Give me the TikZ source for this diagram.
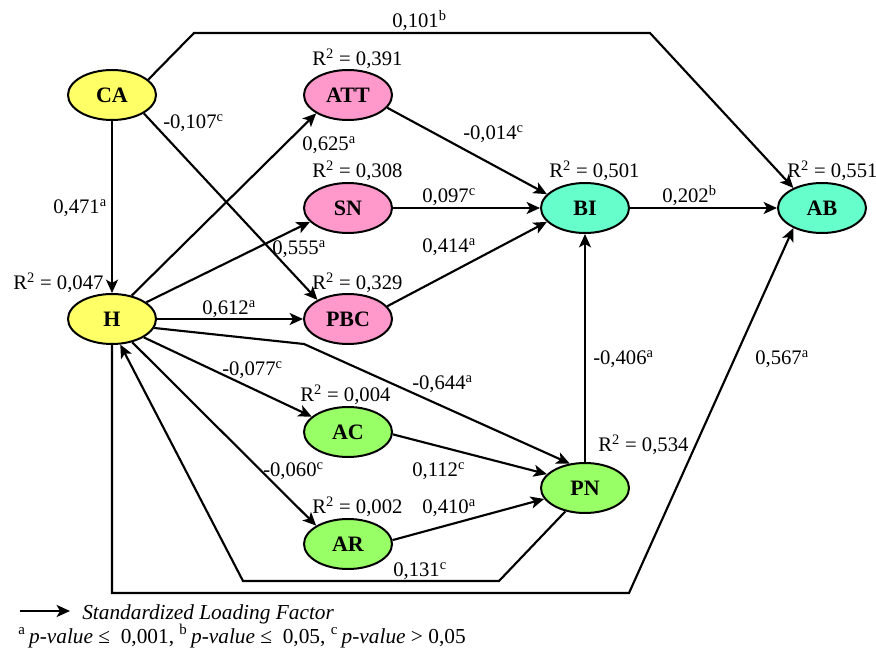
\documentclass[tikz,border=0pt]{standalone}
\usepackage{fontspec}
\setmainfont{Liberation Serif}
\usetikzlibrary{shapes.geometric,arrows.meta}
\definecolor{cyel}{HTML}{FFFF66}
\definecolor{cpnk}{HTML}{FF99CC}
\definecolor{ctea}{HTML}{66FFCC}
\definecolor{cgrn}{HTML}{99FF66}
\begin{document}
\begin{tikzpicture}[x=0.75pt,y=-0.75pt,
  latent/.style={ellipse,draw,line width=1.5pt,minimum width=66pt,minimum height=37.5pt,inner sep=0pt,font=\fontsize{16.5}{19}\selectfont\bfseries},
  yel/.style={latent,fill=cyel},
  pnk/.style={latent,fill=cpnk},
  tea/.style={latent,fill=ctea},
  grn/.style={latent,fill=cgrn},
  conn/.style={line width=1.6pt,line join=miter,-{Stealth[length=10pt,width=9pt,inset=2.5pt]}},
  lbl/.style={anchor=base west,inner sep=0pt,font=\fontsize{15.5}{18}\selectfont},
  leg/.style={anchor=base west,inner sep=0pt,font=\fontsize{16}{19}\selectfont}
]
\useasboundingbox (0,0) rectangle (876,653);
% nodes
\node[yel] (CA) at (112,95) {CA};
\node[yel] (H) at (112,319) {H};
\node[pnk] (ATT) at (348,95) {ATT};
\node[pnk] (SN) at (348,208) {SN};
\node[pnk] (PBC) at (348,319) {PBC};
\node[grn] (AC) at (348,432) {AC};
\node[grn] (AR) at (348,544) {AR};
\node[tea] (BI) at (585,208) {BI};
\node[tea] (AB) at (822,208) {AB};
\node[grn] (PN) at (585,488) {PN};
% bends
\coordinate (c1) at (194,33);
\coordinate (c2) at (650,33);
\coordinate (c3) at (304,344);
\coordinate (c4) at (499,581);
\coordinate (c5) at (243,581);
\coordinate (c6) at (112,593);
\coordinate (c7) at (629,593);
% connectors
\draw[conn] (CA) -- (H);
\draw[conn] (CA.-30) -- (PBC.148);
\draw[conn] (CA.23) -- (c1) -- (c2) -- (AB.145);
\draw[conn] (H.50) -- (ATT.-150);
\draw[conn] (H.26) -- (SN.-160);
\draw[conn] (H) -- (PBC);
\draw[conn] (H.-12) -- (c3) -- (PN.122);
\draw[conn] (H.-30) -- (AC.157);
\draw[conn] (H.-49) -- (AR.150);
\draw[conn] (PN.-130) -- (c4) -- (c5) -- (H.-72);
\draw[conn] (H.south) -- (c6) -- (c7) -- (AB.-145);
\draw[conn] (ATT.-18) -- (BI.160);
\draw[conn] (SN) -- (BI);
\draw[conn] (PBC.18) -- (BI.-160);
\draw[conn] (BI) -- (AB);
\draw[conn] (AC.-3) -- (PN.160);
\draw[conn] (AR.5) -- (PN.-165);
\draw[conn] (PN) -- (BI);
% labels
\node[lbl] (l1) at (392,27) {0,101\textsuperscript{b}};
\node[lbl] (r1) at (312,65) {R\textsuperscript{2} = 0,391};
\node[lbl] (l2) at (163,128) {-0,107\textsuperscript{c}};
\node[lbl] (l3) at (302,150) {0,625\textsuperscript{a}};
\node[lbl] (r2) at (312,177) {R\textsuperscript{2} = 0,308};
\node[lbl] (l4) at (53,213) {0,471\textsuperscript{a}};
\node[lbl] (l5) at (463,139) {-0,014\textsuperscript{c}};
\node[lbl] (r3) at (549,177) {R\textsuperscript{2} = 0,501};
\node[lbl] (r4) at (787,177) {R\textsuperscript{2} = 0,551};
\node[lbl] (l6) at (422,202) {0,097\textsuperscript{c}};
\node[lbl] (l7) at (662,202) {0,202\textsuperscript{b}};
\node[lbl] (l8) at (272,254) {0,555\textsuperscript{a}};
\node[lbl] (l9) at (422,252) {0,414\textsuperscript{a}};
\node[lbl] (r5) at (13,289) {R\textsuperscript{2} = 0,047};
\node[lbl] (r6) at (312,289) {R\textsuperscript{2} = 0,329};
\node[lbl] (l10) at (202,314) {0,612\textsuperscript{a}};
\node[lbl] (l11) at (222,375) {-0,077\textsuperscript{c}};
\node[lbl] (r7) at (300,401) {R\textsuperscript{2} = 0,004};
\node[lbl] (l12) at (412,389) {-0,644\textsuperscript{a}};
\node[lbl] (l13) at (593,364) {-0,406\textsuperscript{a}};
\node[lbl] (l14) at (755,364) {0,567\textsuperscript{a}};
\node[lbl] (r8) at (598,451) {R\textsuperscript{2} = 0,534};
\node[lbl] (l15) at (412,476) {0,112\textsuperscript{c}};
\node[lbl] (l16) at (263,476) {-0,060\textsuperscript{c}};
\node[lbl] (r9) at (312,513) {R\textsuperscript{2} = 0,002};
\node[lbl] (l17) at (422,513) {0,410\textsuperscript{a}};
\node[lbl] (l18) at (393,576) {0,131\textsuperscript{c}};
% legend
\coordinate (g1) at (20,611);
\coordinate (g2) at (70,611);
\draw[conn] (g1) -- (g2);
\node[leg] (legtext) at (82,619) {\textit{Standardized Loading Factor}};
\node[leg] (foot) at (18,643) {\textsuperscript{a}\,\textit{p-value} ≤~ 0,001, \textsuperscript{b}\,\textit{p-value} ≤~ 0,05, \textsuperscript{c}\,\textit{p-value} > 0,05};
\end{tikzpicture}
\end{document}
